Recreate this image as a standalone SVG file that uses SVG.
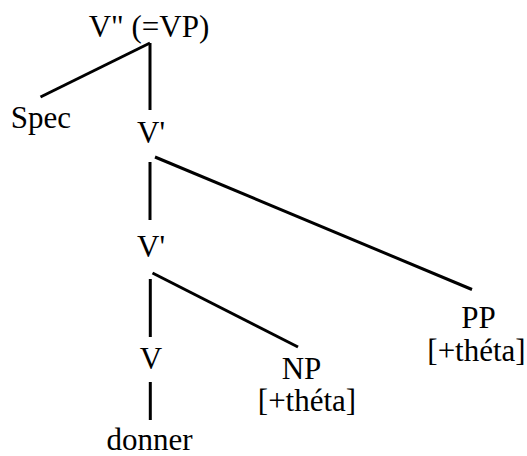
<svg xmlns="http://www.w3.org/2000/svg" width="527" height="456" viewBox="0 0 527 456" font-family="'Liberation Serif', 'Times New Roman', serif" font-size="31">
<style>
.e{stroke:#000;stroke-width:3;fill:none}
</style>
<rect width="527" height="456" fill="#fff"/>
<g id="edges">
<line class="e" x1="150" y1="43" x2="40.5" y2="97"/>
<line class="e" x1="150" y1="43" x2="150" y2="110"/>
<line class="e" x1="150" y1="162" x2="150" y2="220"/>
<line class="e" x1="155" y1="157" x2="472" y2="289.5"/>
<line class="e" x1="150.3" y1="279" x2="150.3" y2="337"/>
<line class="e" x1="152.5" y1="273" x2="298" y2="347"/>
<line class="e" x1="150.3" y1="382" x2="150.3" y2="420"/>
</g>
<g id="n-vpp"><text x="149" y="37" text-anchor="middle">V" (=VP)</text></g>
<g id="n-spec"><text x="41" y="128" text-anchor="middle">Spec</text></g>
<g id="n-vbar1"><text x="151" y="143" text-anchor="middle">V'</text></g>
<g id="n-vbar2"><text x="151" y="257" text-anchor="middle">V'</text></g>
<g id="n-v"><text x="151" y="369" text-anchor="middle">V</text></g>
<g id="n-donner"><text x="149.5" y="450" text-anchor="middle">donner</text></g>
<g id="n-np"><text x="301.5" y="379" text-anchor="middle">NP</text><text x="307" y="411" text-anchor="middle">[+théta]</text></g>
<g id="n-pp"><text x="478.5" y="328" text-anchor="middle">PP</text><text x="476.5" y="361" text-anchor="middle">[+théta]</text></g>
</svg>
